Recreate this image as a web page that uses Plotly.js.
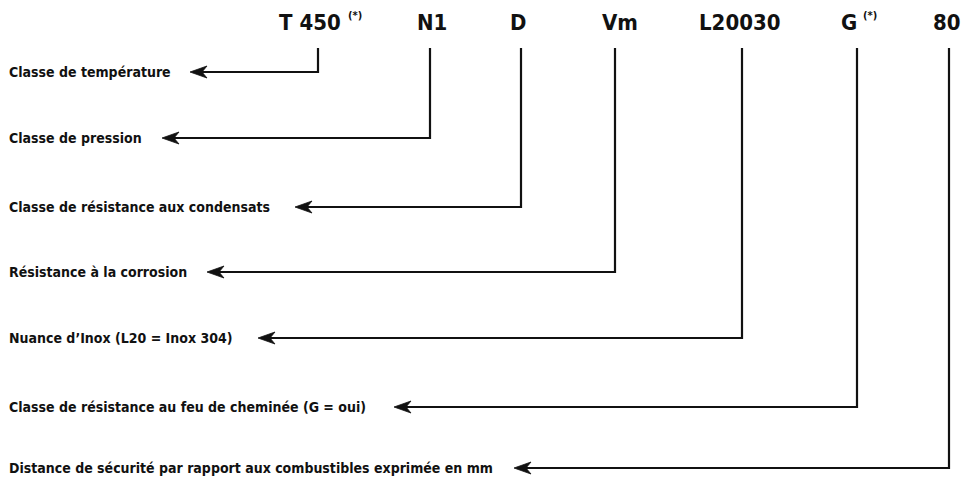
<!DOCTYPE html>
<html>
<head>
<meta charset="utf-8">
<script src="https://cdn.plot.ly/plotly-3.0.1.min.js"></script>
<style>
html,body{margin:0;padding:0;background:#fff;}
#chart{width:961px;height:482px;}
#chart svg text{font-stretch:condensed !important;}
</style>
</head>
<body>
<div id="chart"></div>
<script>
// Designation code parts and their meaning
var codes = ["T 450", "N1", "D", "Vm", "L20030", "G", "80"];
var starred = [true, false, false, false, false, true, false];
var labels = [
  "Classe de température",
  "Classe de pression",
  "Classe de résistance aux condensats",
  "Résistance à la corrosion",
  "Nuance d’Inox (L20 = Inox 304)",
  "Classe de résistance au feu de cheminée (G = oui)",
  "Distance de sécurité par rapport aux combustibles exprimée en mm"
];

// Layout geometry (pixel coordinates)
var codeX = [310, 432, 518, 620, 739, 849, 947];
var starX = [355, null, null, null, null, 870, null];
var stemX = [318, 430, 521, 615, 742, 857, 949];
var rowY = [72, 138, 207, 272, 338, 407, 468];
var tipX = [190, 162, 295, 207, 258, 394, 514];
var stemTop = 48;
var HEAD_LEN = 17, HEAD_HALF = 6, HEAD_NOTCH = 12;

var FONT = "'DejaVu Sans Condensed', 'DejaVu Sans', sans-serif";
var annotations = [];
var shapes = [];
var traces = [];

for (var i = 0; i < codes.length; i++) {
  annotations.push({x: codeX[i], y: 22, xref: 'x', yref: 'y', text: '<b>' + codes[i] + '</b>',
    showarrow: false, xanchor: 'center', yanchor: 'middle',
    font: {family: FONT, size: 22, color: '#111'}});
  if (starred[i]) {
    annotations.push({x: starX[i], y: 15, xref: 'x', yref: 'y', text: '<b>(*)</b>',
      showarrow: false, xanchor: 'center', yanchor: 'middle',
      font: {family: FONT, size: 11, color: '#111'}});
  }
  annotations.push({x: 7, y: rowY[i], xref: 'x', yref: 'y', text: '<b>' + labels[i] + '</b>',
    showarrow: false, xanchor: 'left', yanchor: 'middle',
    font: {family: FONT, size: 14, color: '#111'}});
  // stem + horizontal run
  traces.push({x: [stemX[i], stemX[i], tipX[i] + HEAD_NOTCH], y: [stemTop, rowY[i], rowY[i]],
    mode: 'lines', line: {color: '#111', width: 2.2}, hoverinfo: 'skip', showlegend: false});
  // barbed arrow head
  var t = tipX[i], y = rowY[i];
  shapes.push({type: 'path', xref: 'x', yref: 'y',
    path: 'M' + t + ',' + y + ' L' + (t + HEAD_LEN) + ',' + (y - HEAD_HALF) +
          ' L' + (t + HEAD_NOTCH) + ',' + y + ' L' + (t + HEAD_LEN) + ',' + (y + HEAD_HALF) + ' Z',
    fillcolor: '#111', line: {color: '#111', width: 0.8}});
}

var layout = {
  width: 961, height: 482,
  margin: {l: 0, r: 0, t: 0, b: 0},
  paper_bgcolor: '#fff', plot_bgcolor: '#fff',
  xaxis: {range: [0, 961], visible: false, fixedrange: true},
  yaxis: {range: [482, 0], visible: false, fixedrange: true},
  annotations: annotations,
  shapes: shapes,
  showlegend: false
};

Plotly.newPlot('chart', traces, layout, {staticPlot: true, displayModeBar: false});
</script>
</body>
</html>
